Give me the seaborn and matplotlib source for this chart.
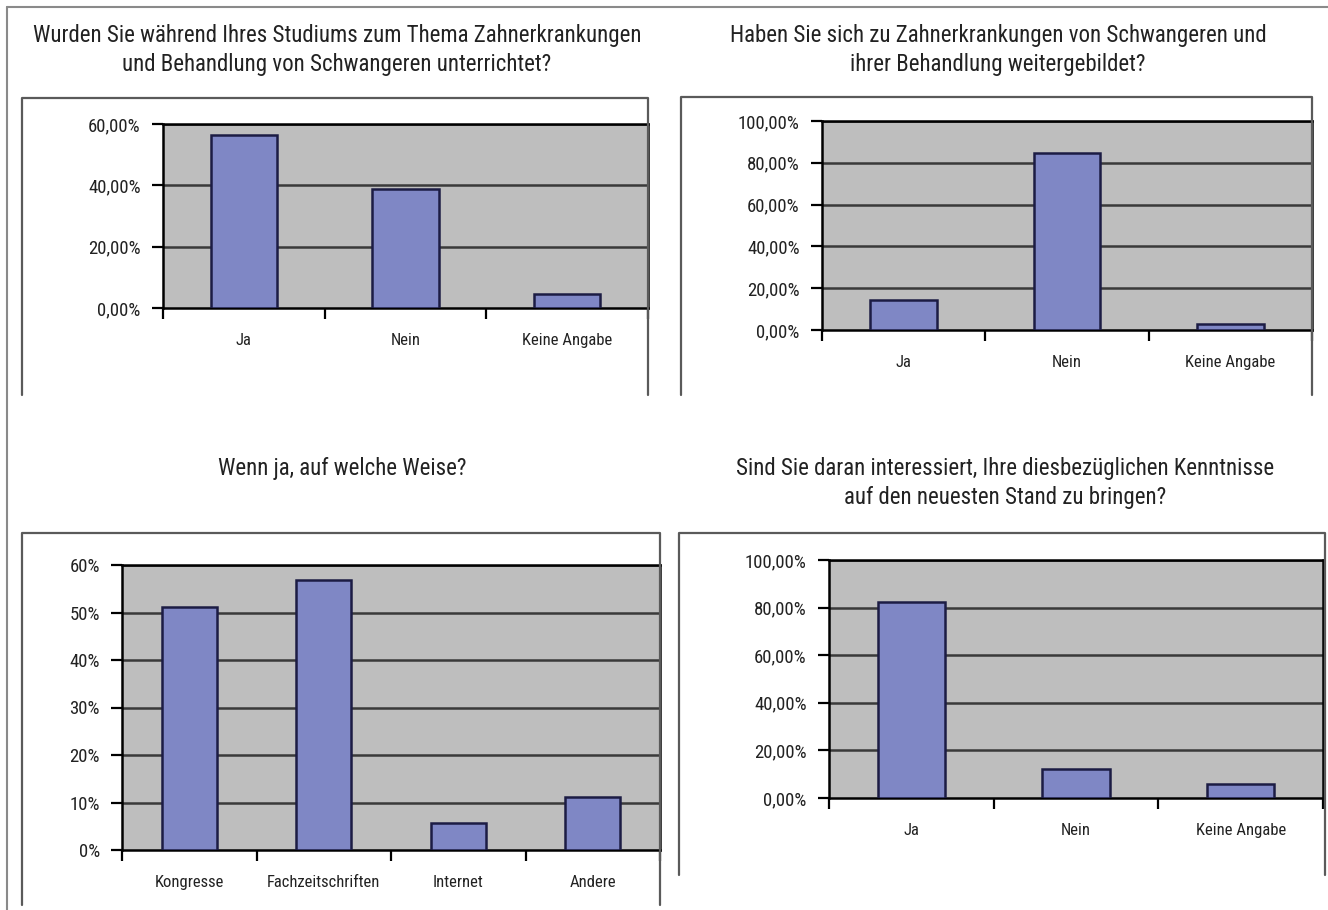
import matplotlib
matplotlib.use("Agg")
import matplotlib.pyplot as plt
import matplotlib.font_manager as fm
from matplotlib.lines import Line2D
from matplotlib.ticker import FuncFormatter, FixedLocator
import seaborn as sns

# ------- data --------------------------------
cats_3 = ["Ja", "Nein", "Keine Angabe"]
cats_way = ["Kongresse", "Fachzeitschriften", "Internet", "Andere"]

studium_vals = [0.564, 0.388, 0.046]
weiterbildung_vals = [0.144, 0.846, 0.029]
weise_vals = [0.512, 0.569, 0.056, 0.112]
interesse_vals = [0.825, 0.123, 0.059]

titles = [
    "Wurden Sie während Ihres Studiums zum Thema Zahnerkrankungen\nund Behandlung von Schwangeren unterrichtet?",
    "Haben Sie sich zu Zahnerkrankungen von Schwangeren und\nihrer Behandlung weitergebildet?",
    "Wenn ja, auf welche Weise?",
    "Sind Sie daran interessiert, Ihre diesbezüglichen Kenntnisse\nauf den neuesten Stand zu bringen?",
]

sns.set_theme(style="white")


# look for a narrow sans face, the reference uses a condensed font
def pick_font():
    fonts = [f for f in fm.fontManager.ttflist if f.style == "normal"
             and f.weight in (400, "normal", "regular")]
    for key in ["Liberation Sans Narrow", "Roboto Condensed", "Open Sans Condensed"]:
        for f in fonts:
            if f.name == key:
                return f.fname
    for key in ["Noto Sans", "Open Sans", "Roboto", "DejaVu Sans"]:
        for f in fonts:
            if f.name == key and (f.stretch in ("condensed", "semi-condensed")
                                  or "ondensed" in f.fname):
                return f.fname
    return None


fpath = pick_font()
if fpath:
    fm.fontManager.addfont(fpath)
    fam = fm.FontProperties(fname=fpath).get_name()
    plt.rcParams["font.family"] = [fam, "DejaVu Sans"]
    plt.rcParams["font.stretch"] = "condensed"
    tsize, xsize, ysize = 16.5, 12, 13.5
else:
    plt.rcParams["font.family"] = ["Liberation Sans", "DejaVu Sans"]
    tsize, xsize, ysize = 14, 10, 10

W, H = 1328, 910
fig = plt.figure(figsize=(W / 100, H / 100), dpi=100)
fig.patch.set_facecolor("white")

BAR = "#7f87c5"
EDGE = "#1c1c44"
BG = "#bebebe"
GRID = "#3a3a3a"
TXT = "#222222"


def px_ax(l, t, r, b):
    return [l / W, (H - b) / H, (r - l) / W, (b - t) / H]


def fline(xs, ys, color="#666666", lw=1.5):
    fig.add_artist(Line2D([x / W for x in xs], [(H - y) / H for y in ys],
                          color=color, lw=lw, transform=fig.transFigure))


# page border (top + left)
fline([7, W], [7, 7], color="#8a8a8a", lw=1.5)
fline([7, 7], [7, H], color="#8a8a8a", lw=1.5)

# chart frames (left, top, right; open at the bottom)
for l, t, r, b in [(22, 98, 648, 395), (681, 97, 1312, 395),
                   (22, 533, 660, 905), (679, 533, 1325, 875)]:
    fline([l, l, r, r], [b, t, t, b], color="#5a5a5a", lw=1.6)


def pct2(v, _):
    return f"{v * 100:.2f}".replace(".", ",") + "%"


def pct0(v, _):
    return f"{v * 100:.0f}%"


def draw(rect, cats, vals, ymax, step, fmt):
    ax = fig.add_axes(px_ax(*rect))
    ax.set_facecolor(BG)
    sns.barplot(x=cats, y=vals, color=BAR, edgecolor=EDGE, linewidth=1.8,
                width=0.41, saturation=1, ax=ax, zorder=3)
    ax.set_xlim(-0.5, len(cats) - 0.5)
    ax.set_ylim(0, ymax)
    ticks = [i * step for i in range(int(round(ymax / step)) + 1)]
    ax.yaxis.set_major_locator(FixedLocator(ticks))
    ax.yaxis.set_major_formatter(FuncFormatter(fmt))
    for y in ticks[1:]:
        ax.axhline(y, color=GRID, lw=1.8, zorder=1)
    for s in ax.spines.values():
        s.set_visible(True)
        s.set_color("black")
        s.set_linewidth(1.8)
    ax.xaxis.set_minor_locator(FixedLocator([i - 0.5 for i in range(len(cats) + 1)]))
    ax.tick_params(axis="x", which="major", length=0, pad=18, labelsize=xsize, labelcolor=TXT)
    ax.tick_params(axis="x", which="minor", length=8, width=1.6, color="black", direction="out")
    ax.tick_params(axis="y", which="major", length=8, width=1.6, color="black",
                   direction="out", pad=8, labelsize=ysize, labelcolor=TXT)
    ax.tick_params(left=True, bottom=True)
    ax.tick_params(axis="x", which="minor", bottom=True)
    ax.set_xlabel("")
    ax.set_ylabel("")
    return ax


draw((163, 124, 648, 308), cats_3, studium_vals, 0.6, 0.2, pct2)
draw((822, 121, 1312, 330), cats_3, weiterbildung_vals, 1.0, 0.2, pct2)
draw((122, 565, 660, 850), cats_way, weise_vals, 0.6, 0.1, pct0)
draw((829, 560, 1323, 798), cats_3, interesse_vals, 1.0, 0.2, pct2)

for (cx, cy), t in zip([(337, 50), (998, 50), (342, 469), (1005, 483)], titles):
    fig.text(cx / W, (H - cy) / H, t, ha="center", va="center", fontsize=tsize,
             color=TXT, linespacing=1.3)

fig.savefig("out.png", dpi=100, facecolor="white")
